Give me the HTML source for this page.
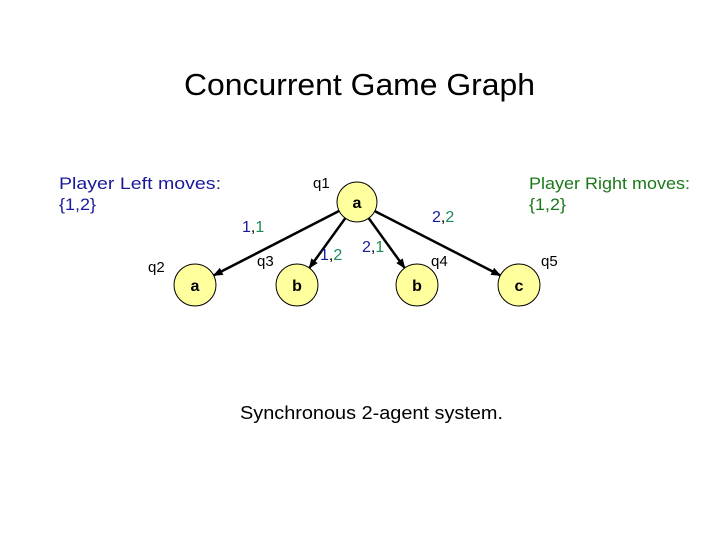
<!DOCTYPE html>
<html><head><meta charset="utf-8"><style>
html,body{margin:0;padding:0;background:#fff;}
svg{display:block;font-family:"Liberation Sans",Arial,sans-serif;}
</style></head><body>
<svg width="720" height="540" viewBox="0 0 720 540">
<defs><marker id="ar" markerWidth="10" markerHeight="8" refX="9" refY="4" orient="auto" markerUnits="userSpaceOnUse"><path d="M0,0 L10,4 L0,8 Z" fill="#000"/></marker></defs>
<text x="184" y="95" font-size="31" textLength="351" lengthAdjust="spacingAndGlyphs">Concurrent Game Graph</text>
<g fill="#1a1a9c" font-size="17"><text x="59" y="189" textLength="162" lengthAdjust="spacingAndGlyphs">Player Left moves:</text><text x="59" y="210" textLength="37" lengthAdjust="spacingAndGlyphs">{1,2}</text></g>
<g fill="#1a781a" font-size="17"><text x="529" y="189" textLength="161" lengthAdjust="spacingAndGlyphs">Player Right moves:</text><text x="529" y="210" textLength="37" lengthAdjust="spacingAndGlyphs">{1,2}</text></g>
<g stroke="#000" stroke-width="2.5" marker-end="url(#ar)">
<line x1="339" y1="211" x2="213.7" y2="275.4"/>
<line x1="345.3" y1="218.2" x2="309.3" y2="268"/>
<line x1="368.7" y1="218.2" x2="404.7" y2="268"/>
<line x1="374.8" y1="211.1" x2="500.3" y2="275.4"/>
</g>
<g fill="#ffff9e" stroke="#000" stroke-width="1">
<circle cx="357" cy="202" r="20"/>
<circle cx="195" cy="285" r="21"/>
<circle cx="297" cy="285" r="21"/>
<circle cx="417" cy="285" r="21"/>
<circle cx="519" cy="285" r="21"/>
</g>
<g font-size="16" font-weight="bold" text-anchor="middle">
<text x="357" y="208">a</text><text x="195" y="291">a</text><text x="297" y="291">b</text><text x="417" y="291">b</text><text x="519" y="291">c</text>
</g>
<g font-size="15">
<text x="313" y="188">q1</text><text x="148" y="272">q2</text><text x="257" y="266">q3</text><text x="431" y="266">q4</text><text x="541" y="266">q5</text>
</g>
<g font-size="16">
<text x="242" y="232"><tspan fill="#1a1a9c">1</tspan>,<tspan fill="#1a8a5a">1</tspan></text>
<text x="432" y="222"><tspan fill="#1a1a9c">2</tspan>,<tspan fill="#1a8a5a">2</tspan></text>
<text x="320" y="260"><tspan fill="#1a1a9c">1</tspan>,<tspan fill="#1a8a5a">2</tspan></text>
<text x="362" y="252"><tspan fill="#1a1a9c">2</tspan>,<tspan fill="#1a8a5a">1</tspan></text>
</g>
<text x="240" y="419" font-size="18" textLength="263" lengthAdjust="spacingAndGlyphs">Synchronous 2-agent system.</text>
</svg>
</body></html>
